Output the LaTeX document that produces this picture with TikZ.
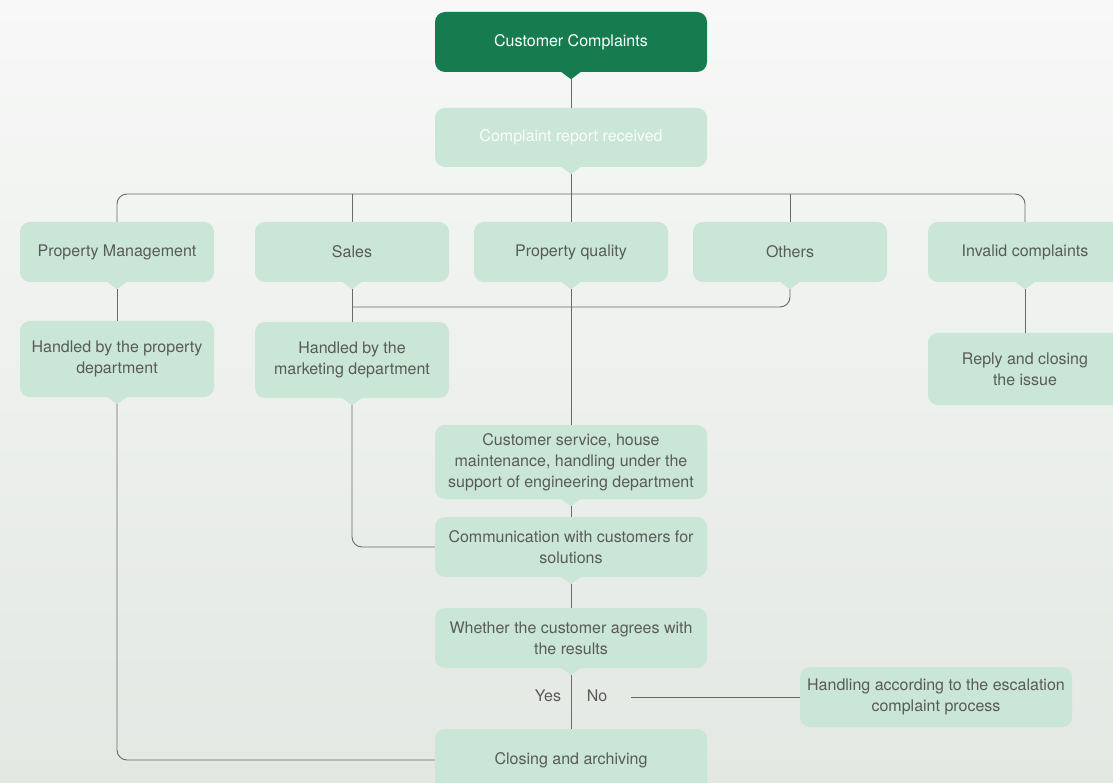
\documentclass[tikz,border=0pt]{standalone}
\usepackage{fontspec}
\setmainfont{TeX Gyre Heros}
\usetikzlibrary{calc,backgrounds}

\definecolor{darkgreen}{HTML}{177B50}
\definecolor{lightgreen}{HTML}{C9E6D6}
\definecolor{txtgrey}{HTML}{5A5A5A}
\definecolor{linegrey}{HTML}{6A6A6A}
\definecolor{bgtop}{HTML}{F7F8F7}
\definecolor{bgbottom}{HTML}{E3E8E3}

\tikzset{
  box/.style={fill=lightgreen, rounded corners=10pt, align=center,
    text=txtgrey, font=\fontsize{16}{21}\selectfont, inner sep=4pt},
  wide/.style={minimum width=272pt},
  narrow/.style={minimum width=194pt},
  darkbox/.style={box, fill=darkgreen, text=white},
  link/.style={draw=linegrey, line width=0.9pt, rounded corners=10pt},
  label/.style={text=txtgrey, font=\fontsize{16}{21}\selectfont, inner sep=0pt}
}

% tail: small triangle under a box
\newcommand{\boxtail}[2]{%
  \fill[#2] ([xshift=-10pt,yshift=0.5pt]#1.south) -- ([yshift=-7pt]#1.south) -- ([xshift=10pt,yshift=0.5pt]#1.south) -- cycle;}

\begin{document}
\begin{tikzpicture}[x=1pt, y=-1pt]
  \clip (0,0) rectangle (1113,783);
  \shade[top color=bgtop, bottom color=bgbottom] (0,0) rectangle (1113,783);

  % boxes
  \node[darkbox, wide, minimum height=60pt] (cc) at (571,42) {Customer Complaints};
  \node[box, wide, minimum height=59pt, text=white!92!lightgreen] (crr) at (571,137.5) {Complaint report received};

  \node[box, narrow, minimum height=60pt] (pm) at (117,252) {Property Management};
  \node[box, narrow, minimum height=60pt] (sales) at (352,252) {Sales};
  \node[box, narrow, minimum height=60pt] (pq) at (571,252) {Property quality};
  \node[box, narrow, minimum height=60pt] (oth) at (790,252) {Others};
  \node[box, narrow, minimum height=60pt] (inv) at (1025,252) {Invalid complaints};

  \node[box, narrow, minimum height=76pt] (hp) at (117,359) {Handled by the property\\department};
  \node[box, narrow, minimum height=76pt] (hmk) at (352,360) {Handled by the\\marketing department};
  \node[box, narrow, minimum height=72pt] (rep) at (1025,369) {Reply and closing\\the issue};

  \node[box, wide, minimum height=74pt] (cs) at (571,462) {Customer service, house\\maintenance, handling under the\\support of engineering department};
  \node[box, wide, minimum height=60pt] (comm) at (571,547) {Communication with customers for\\solutions};
  \node[box, wide, minimum height=60pt] (wh) at (571,638) {Whether the customer agrees with\\the results};
  \node[box, wide, minimum height=60pt] (hand) at (936,697) {Handling according to the escalation\\complaint process};
  \node[box, wide, minimum height=62pt] (close) at (571,760) {Closing and archiving};

  \node[label] (yes) at (548,696) {Yes};
  \node[label] (no) at (597,696) {No};

  % tails
  \boxtail{cc}{darkgreen}
  \foreach \n in {crr,pm,sales,pq,oth,inv,hp,hmk,cs,comm,wh}{\boxtail{\n}{lightgreen}}

  % connectors
  \coordinate (bus) at (571,194);
  \coordinate (bus2) at (571,307);
  \draw[link] ([yshift=-7pt]cc.south) -- (crr.north);
  \draw[link] ([yshift=-7pt]crr.south) -- (bus);
  \draw[link] (pm.north) |- (bus) -| (inv.north);
  \draw[link] (sales.north) -- (sales.north |- bus);
  \draw[link] (pq.north) -- (pq.north |- bus);
  \draw[link] (oth.north) -- (oth.north |- bus);

  \draw[link] ([yshift=-7pt]pm.south) -- (hp.north);
  \draw[link] ([yshift=-7pt]sales.south) -- (hmk.north);
  \draw[link] ([yshift=-7pt]oth.south) |- (sales.south |- bus2);
  \draw[link] ([yshift=-7pt]inv.south) -- (rep.north);
  \draw[link] ([yshift=-7pt]pq.south) -- (cs.north);

  \draw[link] ([yshift=-7pt]hp.south) |- (close.west);
  \draw[link] ([yshift=-7pt]hmk.south) |- (comm.west);
  \draw[link] ([yshift=-7pt]cs.south) -- (comm.north);
  \draw[link] ([yshift=-7pt]comm.south) -- (wh.north);
  \draw[link] ([yshift=-7pt]wh.south) -- (close.north);
  \draw[link] ($(no.east |- hand.west)+(24,0)$) -- (hand.west);
\end{tikzpicture}
\end{document}
